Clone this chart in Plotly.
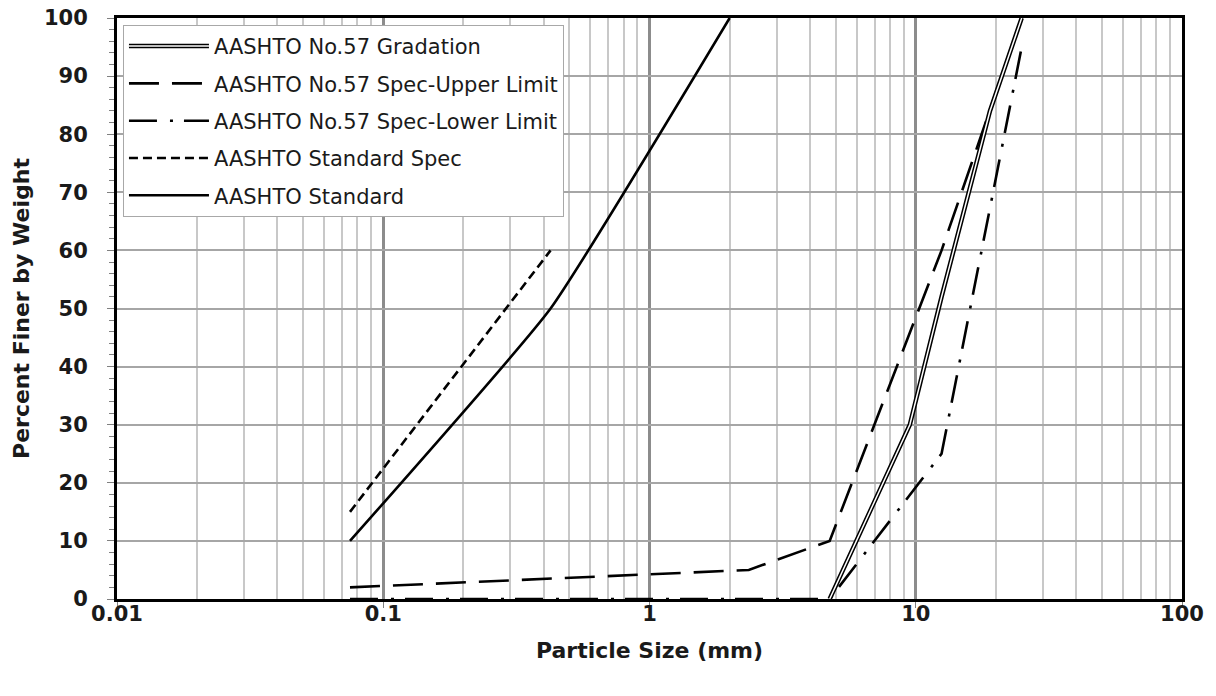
import plotly.graph_objects as go

# ---- data (particle size in mm, percent finer by weight) ----
grad_x = [4.75, 9.5, 12.5, 19.0, 25.0]
grad_y = [0, 30, 52, 84, 100]

upper_x = [0.075, 2.36, 4.75, 12.5, 25.0]
upper_y = [2, 5, 10, 60, 100]

lower_x = [0.075, 2.36, 4.75, 12.5, 25.0]
lower_y = [0, 0, 0, 25, 95]

std_spec_x = [0.075, 0.425]
std_spec_y = [15, 60]

std_x = [0.075, 0.425, 2.0]
std_y = [10, 50, 100]

names = [
    "AASHTO No.57 Gradation",
    "AASHTO No.57 Spec-Upper Limit",
    "AASHTO No.57 Spec-Lower Limit",
    "AASHTO Standard Spec",
    "AASHTO Standard",
]

x_ticks = [0.01, 0.1, 1, 10, 100]
x_tick_text = ["0.01", "0.1", "1", "10", "100"]
y_ticks = [0, 10, 20, 30, 40, 50, 60, 70, 80, 90, 100]

fig = go.Figure()

# double line for gradation: thick black + thin white core
fig.add_trace(go.Scatter(
    x=grad_x, y=grad_y, mode="lines", name=names[0], legendgroup="g0",
    line=dict(color="black", width=4.5),
))
fig.add_trace(go.Scatter(
    x=upper_x, y=upper_y, mode="lines", name=names[1], legendgroup="g1",
    line=dict(color="black", width=2.6, dash="30px,13px"),
))
fig.add_trace(go.Scatter(
    x=lower_x, y=lower_y, mode="lines", name=names[2], legendgroup="g2",
    line=dict(color="black", width=2.6, dash="28px,13px,3px,11px"),
))
fig.add_trace(go.Scatter(
    x=std_spec_x, y=std_spec_y, mode="lines", name=names[3], legendgroup="g3",
    line=dict(color="black", width=2.6, dash="9px,5px"),
))
fig.add_trace(go.Scatter(
    x=std_x, y=std_y, mode="lines", name=names[4], legendgroup="g4",
    line=dict(color="black", width=2.6, shape="spline", smoothing=0.4),
))
# white core of the double line (own overlay legend so the key matches)
fig.add_trace(go.Scatter(
    x=grad_x, y=grad_y, mode="lines", name=" ", legend="legend2", legendgroup="w0",
    line=dict(color="white", width=1.5),
    hoverinfo="skip",
))

legend_font = dict(family="DejaVu Sans", size=21, color="#1a1a1a")
legend_common = dict(
    x=0.0056, y=0.988, xanchor="left", yanchor="top",
    font=legend_font, traceorder="grouped", tracegroupgap=7,
    itemwidth=80, borderwidth=1,
)

tick_font = dict(family="DejaVu Sans", size=21, color="#1a1a1a", weight="bold")
title_font = dict(family="DejaVu Sans", size=22, color="#1a1a1a", weight="bold")

fig.update_layout(
    width=1216, height=696,
    margin=dict(l=117, r=34, t=18, b=97, autoexpand=False),
    paper_bgcolor="white", plot_bgcolor="white",
    showlegend=True,
    legend=dict(**legend_common, bgcolor="white", bordercolor="#a8a8a8"),
    legend2=dict(**legend_common, bgcolor="rgba(0,0,0,0)", bordercolor="rgba(0,0,0,0)"),
    xaxis=dict(
        type="log", range=[-2, 2], automargin=False,
        tickvals=x_ticks, ticktext=x_tick_text, tickfont=tick_font,
        ticks="outside", ticklen=6, tickcolor="#808080", tickwidth=1,
        ticklabelstandoff=-12, ticklabeloverflow="allow",
        showgrid=True, gridcolor="#8c8c8c", gridwidth=2.5,
        minor=dict(dtick="D1", showgrid=True, gridcolor="#c8c8c8", gridwidth=1.5, ticks=""),
        showline=True, linecolor="black", linewidth=3, mirror=True,
        zeroline=False, layer="below traces",
        title=dict(text="Particle Size (mm)", standoff=18, font=title_font),
    ),
    yaxis=dict(
        range=[0, 100], tickvals=y_ticks, automargin=False, tickfont=tick_font,
        ticks="outside", ticklen=7, tickcolor="#808080", tickwidth=1,
        ticklabelstandoff=15, ticklabeloverflow="allow",
        showgrid=True, gridcolor="#a6a6a6", gridwidth=1.5,
        minor=dict(dtick=2, ticks="outside", ticklen=5, tickcolor="#808080", showgrid=False),
        showline=True, linecolor="black", linewidth=3, mirror=True,
        zeroline=False, layer="below traces",
        title=dict(text="Percent Finer by Weight", standoff=9, font=title_font),
    ),
)

# remove the browser's default 8px body margin so the figure fills the window
fig.write_html(
    "out.html",
    config={"displayModeBar": False},
    post_script="document.body.style.margin='0';",
)
